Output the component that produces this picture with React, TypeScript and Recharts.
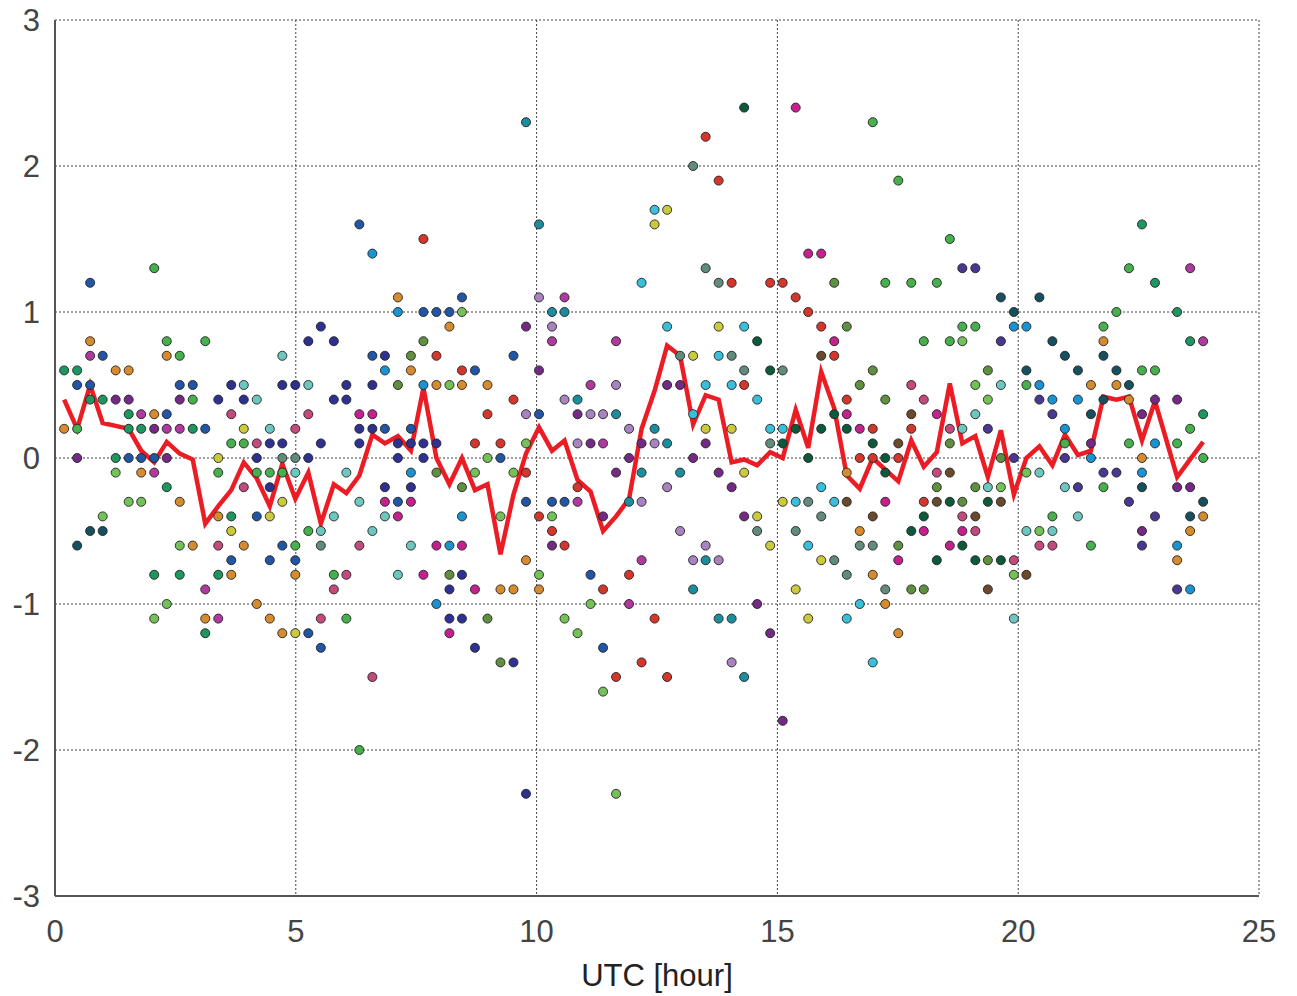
import React from "react";
import { CartesianGrid, ComposedChart, Label, Line, Scatter, XAxis, YAxis } from "recharts";

// measurement times (UTC hour)
const slotHours = [
  0.19, 0.46, 0.73, 0.99, 1.26, 1.53, 1.79, 2.06, 2.32, 2.59,
  2.86, 3.12, 3.39, 3.66, 3.92, 4.19, 4.46, 4.72, 4.99, 5.26,
  5.52, 5.79, 6.05, 6.32, 6.59, 6.85, 7.12, 7.39, 7.65, 7.92,
  8.19, 8.45, 8.72, 8.98, 9.25, 9.52, 9.78, 10.05, 10.32, 10.58,
  10.85, 11.12, 11.38, 11.65, 11.92, 12.18, 12.45, 12.71, 12.98, 13.25,
  13.51, 13.78, 14.05, 14.31, 14.58, 14.85, 15.11, 15.38, 15.64, 15.91,
  16.18, 16.44, 16.71, 16.98, 17.24, 17.51, 17.78, 18.04, 18.31, 18.58,
  18.84, 19.11, 19.37, 19.64, 19.91, 20.17, 20.44, 20.71, 20.97, 21.24,
  21.51, 21.77, 22.04, 22.3, 22.57, 22.84, 23.3, 23.57, 23.84,
];

// red line: mean per time slot
const meanValues = [
  0.4, 0.2, 0.5, 0.24, 0.22, 0.2, 0.05, -0.03, 0.11, 0.03,
  -0.01, -0.45, -0.33, -0.22, -0.03, -0.14, -0.33, -0.04, -0.28, -0.1,
  -0.45, -0.18, -0.24, -0.12, 0.16, 0.1, 0.15, 0.05, 0.48, 0.0,
  -0.18, 0.0, -0.22, -0.18, -0.66, -0.25, 0.03, 0.21, 0.05, 0.12,
  -0.15, -0.23, -0.5, -0.4, -0.28, 0.2, 0.46, 0.77, 0.7, 0.23,
  0.43, 0.4, -0.03, -0.01, -0.05, 0.04, 0.0, 0.33, 0.07, 0.59,
  0.34, -0.12, -0.21, 0.0, -0.08, -0.16, 0.12, -0.06, 0.04, 0.51,
  0.1, 0.15, -0.13, 0.19, -0.25, 0.0, 0.08, -0.05, 0.16, 0.02,
  0.05, 0.42, 0.4, 0.42, 0.12, 0.39, -0.13, -0.01, 0.11,
];

// individual values per time slot
const dotValues: number[][] = [
  [0.6, 0.2],
  [0.6, 0.5, 0.2, 0, -0.6],
  [1.2, 0.8, 0.7, 0.5, 0.4, -0.5],
  [0.7, 0.4, -0.4, -0.5],
  [0.6, 0.4, 0, -0.1],
  [0.6, 0.4, 0.3, 0.2, 0, -0.3],
  [0.3, 0.2, 0, -0.1, -0.3],
  [1.3, 0.3, 0.2, 0, -0.1, -0.8, -1.1],
  [0.8, 0.7, 0.3, 0.2, 0, -0.2, -1.0],
  [0.7, 0.5, 0.4, 0.2, -0.3, -0.6, -0.8],
  [0.5, 0.4, 0.2, -0.6],
  [0.8, 0.2, -0.9, -1.1, -1.2],
  [0.4, 0, -0.1, -0.4, -0.6, -0.8, -1.1],
  [0.5, 0.3, 0.1, -0.4, -0.5, -0.7, -0.8],
  [0.5, 0.4, 0.2, 0.1, -0.2, -0.6],
  [0.4, 0.1, 0, -0.1, -0.4, -1.0],
  [0.2, 0.1, -0.1, -0.2, -0.4, -0.7, -1.1],
  [0.7, 0.5, 0.1, 0, -0.1, -0.3, -0.6, -1.2],
  [0.5, 0.2, 0, -0.1, -0.6, -0.7, -0.8, -1.2],
  [0.8, 0.5, 0.3, 0, -0.5, -1.2],
  [0.9, 0.1, -0.5, -0.6, -1.1, -1.3],
  [0.8, 0.4, -0.4, -0.8, -0.9],
  [0.5, 0.4, -0.1, -0.8, -1.1],
  [1.6, 0.3, 0.2, 0.1, -0.3, -0.6, -2.0],
  [1.4, 0.7, 0.5, 0.3, 0.2, -0.5, -1.5],
  [0.7, 0.6, 0.2, -0.2, -0.3, -0.4],
  [1.1, 1.0, 0.5, 0.1, 0, -0.3, -0.4, -0.8],
  [0.7, 0.6, 0.2, 0.1, -0.1, -0.2, -0.3, -0.6],
  [1.5, 1.0, 0.8, 0.5, 0.1, 0, -0.8],
  [1.0, 0.7, 0.5, 0.1, -0.1, -0.6, -1.0],
  [1.0, 0.9, 0.5, -0.6, -0.8, -0.9, -1.1, -1.2],
  [1.1, 1.0, 0.6, 0.5, -0.2, -0.4, -0.6, -0.8, -1.1],
  [0.6, 0.1, -0.1, -0.9, -1.3],
  [0.5, 0.3, 0, -1.1],
  [0.1, 0, -0.4, -0.9, -1.4],
  [0.7, 0.4, -0.1, -0.9, -1.4],
  [2.3, 0.9, 0.3, 0.1, -0.1, -0.3, -0.7, -2.3],
  [1.6, 1.1, 0.6, 0.3, -0.4, -0.8, -0.9],
  [1.0, 0.9, 0.8, -0.3, -0.4, -0.5, -0.6],
  [1.1, 1.0, 0.4, -0.3, -0.6, -1.1],
  [0.4, 0.3, 0.1, -0.2, -0.3, -1.2],
  [0.5, 0.3, 0.1, -0.8, -1.0],
  [0.3, 0.1, -0.4, -0.9, -1.3, -1.6],
  [0.8, 0.5, 0.3, -0.1, -1.5, -2.3],
  [0.2, 0, -0.3, -0.8, -1.0],
  [1.2, 0.1, -0.1, -0.3, -0.7, -1.4],
  [1.7, 1.6, 0.2, 0.1, -1.1],
  [1.7, 0.9, 0.5, 0.1, -0.2, -1.5],
  [0.7, 0.5, -0.1, -0.5],
  [2.0, 0.7, 0.3, 0, -0.7, -0.9],
  [2.2, 1.3, 0.5, 0.2, 0.1, -0.6, -0.7],
  [1.9, 1.2, 0.9, 0.7, -0.1, -0.7, -1.1],
  [1.2, 0.7, 0.5, 0.2, -0.2, -1.1, -1.4],
  [2.4, 0.9, 0.6, 0.5, -0.1, -0.4, -1.5],
  [0.8, 0.4, -0.4, -0.5, -1.0],
  [1.2, 0.6, 0.2, 0.1, -0.6, -1.2],
  [1.2, 0.6, 0.2, 0.1, -0.3, -1.8],
  [2.4, 1.1, 0.2, -0.3, -0.5, -0.9],
  [1.4, 1.0, 0, -0.3, -0.6, -1.1],
  [1.4, 0.9, 0.7, 0.2, -0.2, -0.4, -0.7],
  [1.2, 0.8, 0.7, 0.3, -0.3, -0.7],
  [0.9, 0.4, 0.3, 0.2, -0.1, -0.3, -0.8, -1.1],
  [0.5, 0.2, 0, -0.5, -0.6, -1.0],
  [2.3, 0.6, 0.2, 0.1, 0, -0.4, -0.6, -0.8, -1.4],
  [1.2, 0.4, 0, -0.1, -0.3, -0.9, -1.0],
  [1.9, 0.1, 0, -0.6, -0.7, -1.2],
  [1.2, 0.5, 0.3, 0.2, -0.5, -0.9],
  [0.8, 0.4, -0.3, -0.4, -0.5, -0.9],
  [1.2, 0.3, -0.1, -0.2, -0.3, -0.7],
  [1.5, 0.8, 0.2, 0.1, -0.1, -0.3, -0.6],
  [1.3, 0.9, 0.8, 0.2, -0.3, -0.4, -0.5, -0.6],
  [1.3, 0.9, 0.5, 0.3, -0.2, -0.4, -0.5, -0.7],
  [0.6, 0.4, 0.2, -0.2, -0.3, -0.7, -0.9],
  [1.1, 0.8, 0.5, 0, -0.2, -0.3, -0.7],
  [1.0, 0.9, 0, -0.7, -0.8, -1.1],
  [0.9, 0.6, 0.5, -0.1, -0.5, -0.8],
  [1.1, 0.5, 0.4, -0.1, -0.5, -0.6],
  [0.8, 0.4, 0.3, -0.4, -0.5, -0.6],
  [0.7, 0.2, 0.1, 0, -0.2],
  [0.6, 0.4, -0.2, -0.4],
  [0.5, 0.3, 0.1, 0, -0.6],
  [0.9, 0.8, 0.7, 0.4, -0.1, -0.2],
  [1.0, 0.6, 0.5, -0.1],
  [1.3, 0.5, 0.4, 0.1, -0.3],
  [1.6, 0.6, 0.3, 0, -0.1, -0.2, -0.5, -0.6],
  [1.2, 0.6, 0.4, 0.1, -0.4],
  [1.0, 0.4, 0.1, -0.2, -0.6, -0.7, -0.9],
  [1.3, 0.8, 0.2, -0.2, -0.4, -0.5, -0.9],
  [0.8, 0.3, 0, -0.3, -0.4],
];

// group of each dot (one letter per value above)
const dotGroups = [
  "to", "tbgpD", "bombtD", "btGD", "optG", "opttbG", "mtboG", "gopbmtG", "gobmptG", "gbpmoGt",
  "bgto", "gbmot", "nygoktm", "nkgtybo", "Tnygko", "Tkngbo", "Tngnybo", "Tnnsgybo", "nksTgboy", "nTkngb",
  "nnTskb", "nnTgk", "nnTkg", "bMnnTkg", "cbnMnTk", "ncbnMT", "ocvnnbMT", "vobncnMT", "rbvcnnM", "bronvMc",
  "boGcvnnM", "bGrovcMnn", "brGMn", "orGv", "rbGov", "brGon", "eplGrbon", "elpbrGo", "elmbGrp", "melbrG",
  "eplrmG", "mlpbG", "lmprbG", "mleprG", "lperm", "Cpelmr", "Cyelr", "yCpelr", "spel", "syCple",
  "rsCyple", "rsyCple", "rsCypel", "dCsrype", "dCysp", "rdCsyp", "rsCdyp", "MrdCsy", "MrdsCy", "MrwdCsy",
  "vMrdCs", "vrMdowsC", "vMrosC", "gvrdrwsoC", "gvddMso", "gwrvMo", "gkwrdv", "gkrdMv", "gMkvwd", "ggkvwdM",
  "igGTvkMd", "igGTvwkd", "vGiTdvw", "DiTvGwd", "DcikGT", "cDgGTw", "DciTGk", "DcigTk", "DcgiT", "DciT",
  "oDpcg", "goDDig", "gDoi", "gDogi", "tgpocDpi", "tgpci", "tpgpcoi", "mtgpDoc", "mtgDo",
];

const xTicks = [0, 5, 10, 15, 20, 25];
const yTicks = [-3, -2, -1, 0, 1, 2, 3];

const groupColors: Record<string, string> = {
  g: "#45b04c",
  G: "#74c257",
  t: "#1d9660",
  T: "#6cc8bf",
  o: "#d78b2f",
  b: "#2156a6",
  n: "#2e3191",
  m: "#b0399f",
  M: "#c4208e",
  p: "#742a84",
  k: "#c34a7c",
  y: "#cbc93c",
  c: "#1a93d3",
  C: "#39bfd9",
  r: "#d5362c",
  l: "#a983bf",
  e: "#1b8e9d",
  s: "#618c7b",
  d: "#0c5a3b",
  D: "#164f5e",
  v: "#5f9040",
  w: "#6b4a2c",
  i: "#4a3792",
};

type Pt = { h: number; v: number };

const meanData: Pt[] = slotHours.map((h, i) => ({ h, v: meanValues[i] }));

const groupData: Record<string, Pt[]> = {};
dotValues.forEach((vals, i) => {
  vals.forEach((v, j) => {
    const g = dotGroups[i][j] || "n";
    (groupData[g] ||= []).push({ h: slotHours[i], v });
  });
});

const tickStyle = { fill: "#444", fontSize: 31 };

export default function App() {
  return (
    <div style={{ fontFamily: "'Liberation Sans', Arial, sans-serif", margin: "-8px 0 0 0" }}>
      <ComposedChart width={1289} height={996} margin={{ top: 20, right: 38, bottom: 5, left: 0 }}>
        <CartesianGrid stroke="#444" strokeDasharray="2 2" strokeWidth={1} />
        <XAxis
          dataKey="h"
          type="number"
          domain={[0, 25]}
          ticks={xTicks}
          interval={0}
          tick={tickStyle}
          tickLine={false}
          tickSize={0}
          tickMargin={24}
          height={95}
          axisLine={{ stroke: "#555", strokeWidth: 2 }}
        >
          <Label value="UTC [hour]" position="insideBottom" offset={5} fill="#222" fontSize={31} />
        </XAxis>
        <XAxis
          xAxisId="top"
          orientation="top"
          dataKey="h"
          type="number"
          domain={[0, 25]}
          tick={false}
          tickLine={false}
          height={0}
          axisLine={{ stroke: "#555", strokeWidth: 2 }}
        />
        <YAxis
          dataKey="v"
          type="number"
          domain={[-3, 3]}
          ticks={yTicks}
          interval={0}
          tick={tickStyle}
          tickLine={false}
          tickSize={0}
          tickMargin={15}
          width={47}
          axisLine={{ stroke: "#555", strokeWidth: 2 }}
        />
        <YAxis
          yAxisId="right"
          orientation="right"
          dataKey="v"
          type="number"
          domain={[-3, 3]}
          tick={false}
          tickLine={false}
          width={0}
          axisLine={{ stroke: "#555", strokeWidth: 2 }}
        />
        {Object.keys(groupData).map((g) => (
          <Scatter
            key={g}
            name={g}
            data={groupData[g]}
            fill={groupColors[g]}
            stroke="#222"
            strokeWidth={0.9}
            isAnimationActive={false}
          />
        ))}
        <Line
          data={meanData}
          dataKey="v"
          type="linear"
          stroke="#ec1c24"
          strokeWidth={4.5}
          dot={false}
          activeDot={false}
          isAnimationActive={false}
        />
      </ComposedChart>
    </div>
  );
}
